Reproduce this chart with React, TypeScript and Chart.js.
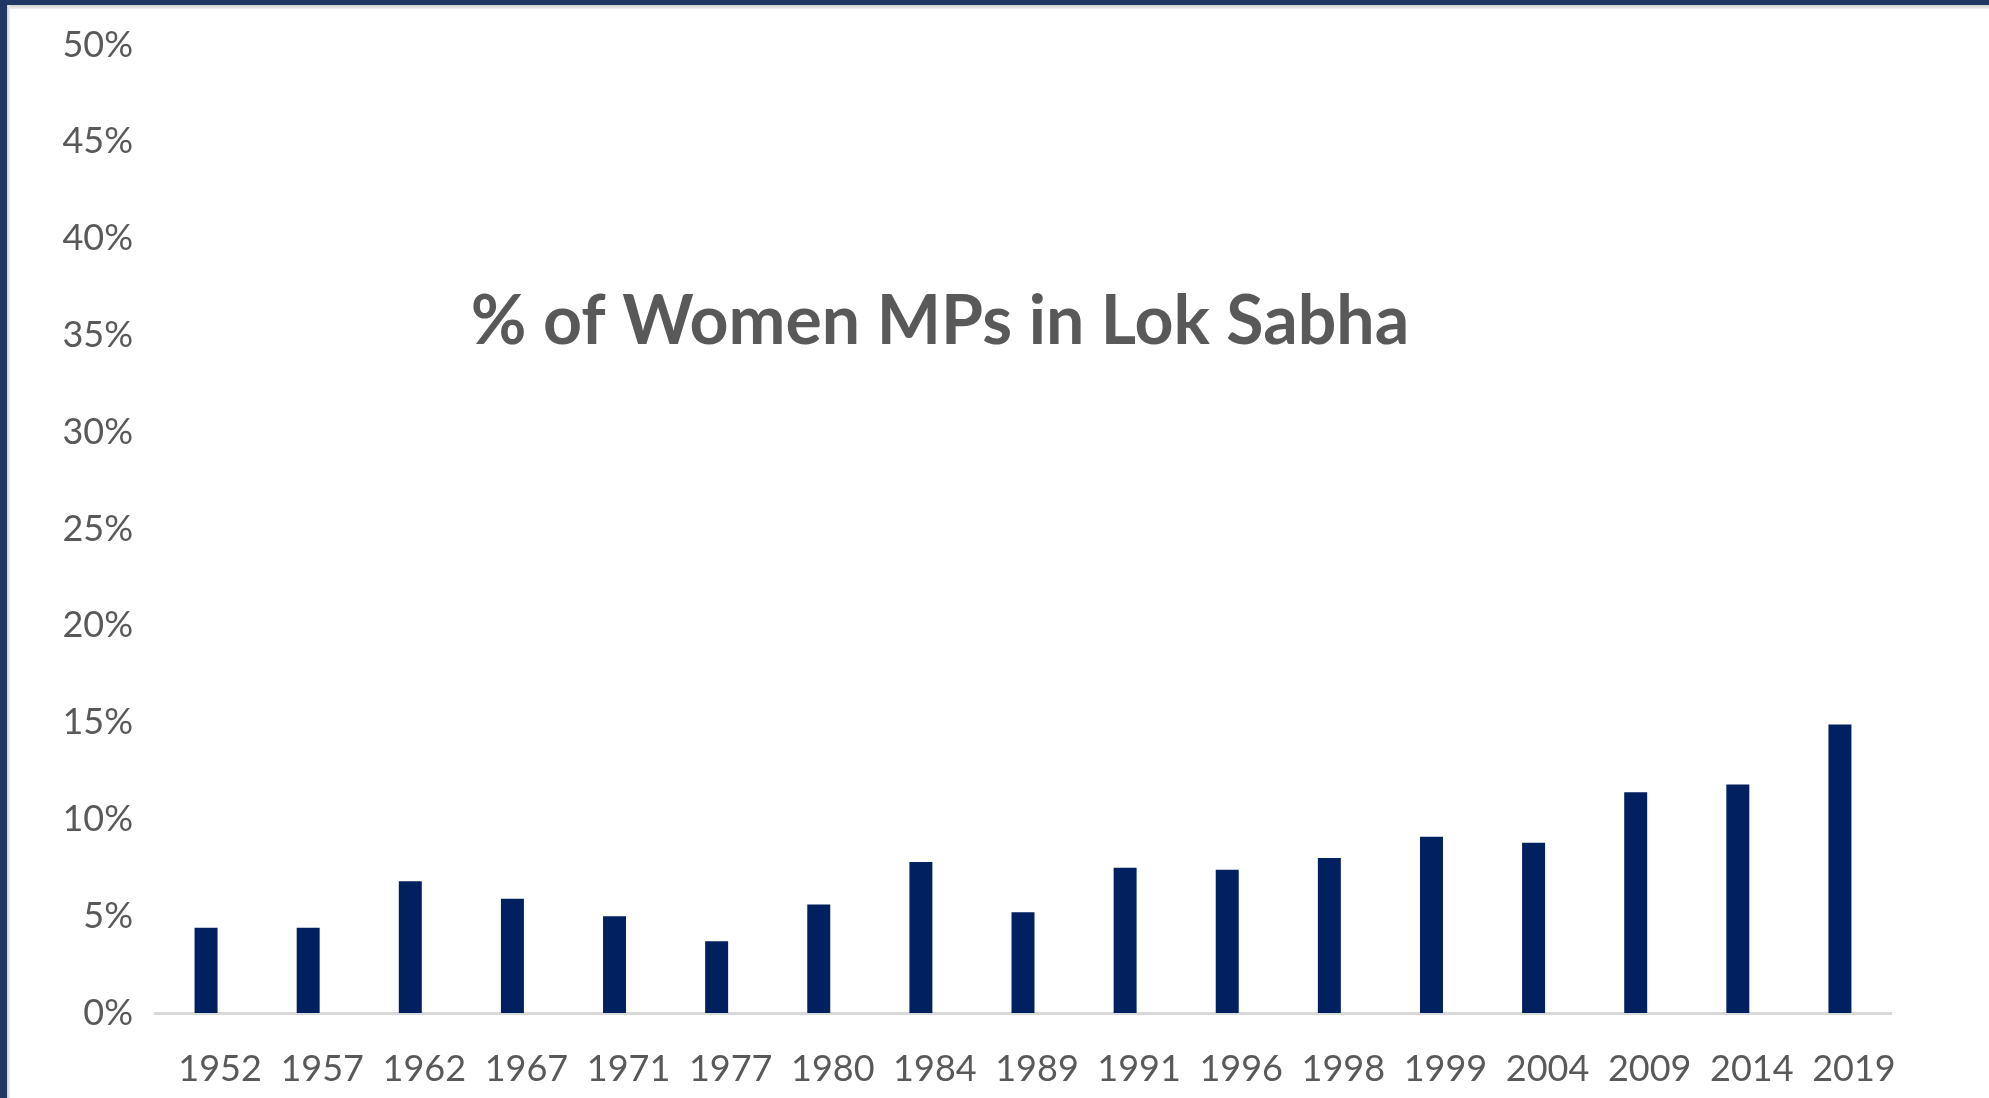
import React, { useEffect, useRef } from "react";
import { Chart, registerables } from "chart.js";

Chart.register(...registerables);

const years: string[] = [
  "1952", "1957", "1962", "1967", "1971", "1977", "1980", "1984", "1989",
  "1991", "1996", "1998", "1999", "2004", "2009", "2014", "2019",
];
const womenPct: number[] = [
  4.4, 4.4, 6.8, 5.9, 5.0, 3.7, 5.6, 7.8, 5.2,
  7.5, 7.4, 8.0, 9.1, 8.8, 11.4, 11.8, 14.9,
];
const yMin = 0;
const yMax = 50;
const yStep = 5;
const chartTitle = "% of Women MPs in Lok Sabha";

const W = 1989;
const H = 1098;
const FONT = "Lato, 'Open Sans', sans-serif";
const TEXT = "#595959";

const titlePlugin = {
  id: "overlayTitle",
  afterDraw(chart: any) {
    const ctx = chart.ctx;
    ctx.save();
    ctx.font = `bold 68px ${FONT}`;
    ctx.fillStyle = TEXT;
    ctx.textAlign = "center";
    ctx.textBaseline = "alphabetic";
    ctx.fillText(chartTitle, 940, 344);
    ctx.restore();
  },
};

export default function App() {
  const ref = useRef<HTMLCanvasElement | null>(null);

  useEffect(() => {
    if (!ref.current) return;
    const chart = new Chart(ref.current, {
      type: "bar",
      data: {
        labels: years,
        datasets: [
          {
            label: chartTitle,
            data: womenPct,
            backgroundColor: "#002060",
            borderWidth: 0,
            barPercentage: 0.225,
            categoryPercentage: 1,
          },
        ],
      },
      options: {
        animation: false,
        responsive: false,
        devicePixelRatio: 1,
        layout: { padding: { top: 45, left: 0, right: 98, bottom: 0 } },
        plugins: {
          legend: { display: false },
          title: { display: false },
          tooltip: { enabled: false },
        },
        scales: {
          x: {
            grid: { display: false, drawTicks: false },
            border: { display: true, color: "#d9d9d9", width: 3 },
            ticks: {
              color: TEXT,
              font: { family: FONT, size: 36 },
              padding: 35,
              labelOffset: 14,
              maxRotation: 0,
              autoSkip: false,
            },
            afterFit(s: any) {
              s.height = 85;
            },
          },
          y: {
            min: yMin,
            max: yMax,
            grid: { display: false, drawTicks: false },
            border: { display: false },
            ticks: {
              stepSize: yStep,
              color: TEXT,
              font: { family: FONT, size: 36 },
              padding: 22,
              callback: (v: any) => `${v}%`,
            },
            afterFit(s: any) {
              s.width = 155;
            },
          },
        },
      },
      plugins: [titlePlugin],
    });
    return () => chart.destroy();
  }, []);

  return (
    <div
      style={{
        position: "absolute",
        left: 0,
        top: 0,
        width: W,
        height: H,
        background: "#ffffff",
        overflow: "hidden",
      }}
    >
      <canvas ref={ref} width={W} height={H} style={{ position: "absolute", left: 0, top: 0 }} />
      <div style={{ position: "absolute", left: 0, top: 0, width: W, height: 5, background: "#1f3864" }} />
      <div style={{ position: "absolute", left: 7, top: 5, width: W - 7, height: 4, background: "linear-gradient(#d0d0d0, #f0f0f0)" }} />
      <div style={{ position: "absolute", left: 0, top: 0, width: 7, height: H, background: "#1f3864" }} />
      <div style={{ position: "absolute", left: 7, top: 5, width: 3, height: H - 5, background: "linear-gradient(90deg, #d0d0d0, #f0f0f0)" }} />
    </div>
  );
}
